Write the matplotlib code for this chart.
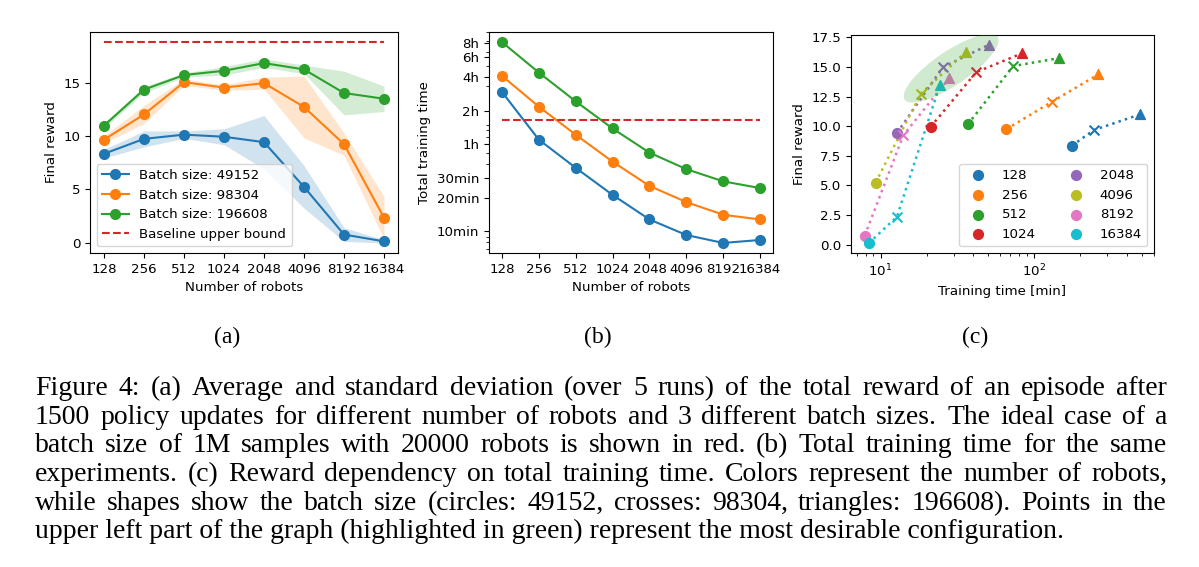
import numpy as np
import matplotlib
matplotlib.use("Agg")
import matplotlib.pyplot as plt
from matplotlib.patches import Ellipse
from matplotlib.transforms import ScaledTranslation

# number of robots (x axis of a and b) and batch sizes
robots = [128, 256, 512, 1024, 2048, 4096, 8192, 16384]
robot_labels = [str(r) for r in robots]
batch_sizes = [49152, 98304, 196608]

# final reward, mean and std over 5 runs
reward_49152 = [8.35, 9.75, 10.15, 9.95, 9.44, 5.24, 0.76, 0.12]
reward_98304 = [9.68, 12.05, 15.08, 14.57, 14.99, 12.75, 9.25, 2.35]
reward_196608 = [11.0, 14.38, 15.75, 16.15, 16.87, 16.28, 14.06, 13.52]
std_49152 = [0.4, 0.75, 0.35, 0.75, 2.5, 2.0, 0.65, 0.15]
std_98304 = [0.35, 0.85, 0.3, 0.25, 0.57, 2.9, 1.05, 2.0]
std_196608 = [0.25, 0.3, 0.2, 0.4, 0.4, 0.4, 2.05, 1.2]
baseline_reward = 18.85

# total training time in minutes
time_49152 = [176, 66, 37, 21.2, 12.8, 9.3, 7.9, 8.4]
time_98304 = [245, 130, 73, 42, 25.5, 18.3, 14.1, 12.8]
time_196608 = [490, 262, 145, 83, 50.5, 36, 28, 24.4]
baseline_time = 98.6

time_ticks = [10, 20, 30, 60, 120, 240, 360, 480]
time_tick_labels = ["10min", "20min", "30min", "1h", "2h", "4h", "6h", "8h"]

robot_colors = ["C0", "C1", "C2", "C3", "C4", "C8", "C6", "C9"]

caption_lines = [
    "Figure 4: (a) Average and standard deviation (over 5 runs) of the total reward of an episode after",
    "1500 policy updates for different number of robots and 3 different batch sizes. The ideal case of a",
    "batch size of 1M samples with 20000 robots is shown in red. (b) Total training time for the same",
    "experiments. (c) Reward dependency on total training time. Colors represent the number of robots,",
    "while shapes show the batch size (circles: 49152, crosses: 98304, triangles: 196608). Points in the",
    "upper left part of the graph (highlighted in green) represent the most desirable configuration.",
]

rewards = [reward_49152, reward_98304, reward_196608]
stds = [std_49152, std_98304, std_196608]
times = [time_49152, time_98304, time_196608]

W, H = 1199, 567
plt.rcParams['font.size'] = 9.6
fig = plt.figure(figsize=(W / 100, H / 100), dpi=100)

def box(x0, x1, y0, y1):
    # pixel box -> figure fraction
    return [x0 / W, 1 - y1 / H, (x1 - x0) / W, (y1 - y0) / H]

ax_a = fig.add_axes(box(90, 398, 32, 253))
ax_b = fig.add_axes(box(489, 773, 32, 253))
ax_c = fig.add_axes(box(851, 1154, 35, 253))

x = np.arange(len(robots))

# (a) final reward
for i, bs in enumerate(batch_sizes):
    m = np.array(rewards[i])
    s = np.array(stds[i])
    ax_a.plot(x, m, '-o', color="C%d" % i, markersize=7, label="Batch size: %d" % bs)
    ax_a.fill_between(x, m - s, m + s, color="C%d" % i, alpha=0.2, linewidth=0)
ax_a.plot(x, [baseline_reward] * len(x), '--', color="C3", label="Baseline upper bound")
ax_a.set_xticks(x, robot_labels)
ax_a.set_yticks([0, 5, 10, 15])
ax_a.set_xlabel("Number of robots")
ax_a.set_ylabel("Final reward")
ax_a.legend(loc="lower left")

# (b) training time
for i, bs in enumerate(batch_sizes):
    ax_b.plot(x, times[i], '-o', color="C%d" % i, markersize=7)
ax_b.plot(x, [baseline_time] * len(x), '--', color="C3")
ax_b.set_yscale("log")
ax_b.set_yticks(time_ticks, time_tick_labels)
ax_b.set_xticks(x, robot_labels)
ax_b.set_xlabel("Number of robots")
ax_b.set_ylabel("Total training time")

# (c) reward vs time
markers = ["o", "x", "^"]
for j, r in enumerate(robots):
    t = [times[i][j] for i in range(3)]
    rw = [rewards[i][j] for i in range(3)]
    ax_c.plot(t, rw, ':', color=robot_colors[j], linewidth=1.8)
    for i in range(3):
        ax_c.scatter(t[i], rw[i], marker=markers[i], color=robot_colors[j], s=50,
                     label=str(r) if i == 0 else None, zorder=3)
ax_c.set_xscale("log")
ax_c.set_xlabel("Training time [min]")
ax_c.set_ylabel("Final reward")
ax_c.legend(loc="lower right", ncol=2)

# highlight of the most desirable region, sized in inches around a data point
hl = ScaledTranslation(28.8, 14.9, ax_c.transData)
ax_c.add_patch(Ellipse((0, 0), 1.12, 0.34, angle=34, transform=fig.dpi_scale_trans + hl,
                       facecolor="C2", alpha=0.22, edgecolor="none", zorder=4))

# sub figure labels
serif = "Liberation Serif"
for lab, xc in zip(["(a)", "(b)", "(c)"], [227, 598, 975]):
    fig.text(xc / W, 1 - 337 / H, lab, family=serif, fontsize=17, ha="center", va="center")

# justified caption
cap_size = 20
renderer = fig.canvas.get_renderer()
left, right = 35, 1167
for k, line in enumerate(caption_lines):
    yb = 1 - (395 + k * 28.7) / H
    if k == len(caption_lines) - 1:
        fig.text(left / W, yb, line, family=serif, fontsize=cap_size, va="baseline")
        continue
    words = line.split(" ")
    txts = [fig.text(0, yb, w, family=serif, fontsize=cap_size, va="baseline") for w in words]
    widths = [t.get_window_extent(renderer).width for t in txts]
    gap = (right - left - sum(widths)) / (len(words) - 1)
    xp = left
    for t, w in zip(txts, widths):
        t.set_x(xp / W)
        xp += w + gap

fig.savefig("out.png", dpi=100)
